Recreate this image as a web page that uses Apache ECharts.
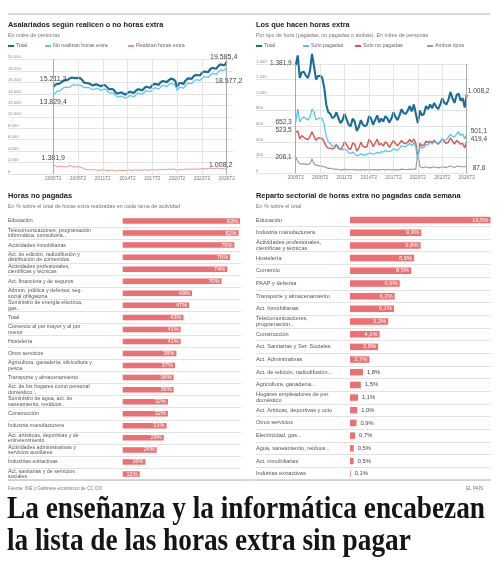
<!DOCTYPE html>
<html>
<head>
<meta charset="utf-8">
<script src="https://cdn.jsdelivr.net/npm/echarts@6/dist/echarts.min.js"></script>
<style>
html, body { margin: 0; padding: 0; background: #fff; }
#main { width: 504px; height: 570px; }
</style>
</head>
<body>
<div id="main"></div>
<script>
// trimestres: indice 0 = 2005T2 ... 84 = 2026T2
var xTickIdx = [0, 12, 24, 36, 48, 60, 72, 84];
var xTickLabels = ['2005T2', '2008T2', '2011T2', '2014T2', '2017T2', '2020T2', '2023T2', '2026T2'];

// Asalariados (miles)
var asalTotal = [15211.3, 15600, 15750,
    15800, 16050, 16300, 16400, 16450, 16700, 16850, 16800, 16750, 16800, 16750, 16450,
    15950, 15900, 15850, 15700, 15450, 15600, 15650, 15500, 15300, 15500, 15550, 15200,
    14800, 14850, 14800, 14350, 14050, 14150, 14250, 14050, 13850, 14150, 14400, 14250,
    14150, 14550, 14800, 14750, 14600, 14950, 15250, 15150, 15050, 15500, 15750, 15700,
    15550, 16000, 16250, 16150, 16050, 16400, 16650, 16550, 16300, 15200, 15850, 15900,
    15700, 16300, 16650, 16700, 16600, 17100, 17300, 17250, 17200, 17650, 17900, 17850,
    17800, 18300, 18550, 18450, 18400, 18900, 19150, 19050, 19000, 19585.4];
var asalNo = [13829.4, 14090, 14530,
    14505, 14750, 15050, 15180, 15140, 15170, 15480, 15600, 15505, 15550, 15525, 15350,
    15070, 15120, 15090, 14995, 14730, 14820, 14950, 14860, 14620, 14740, 14860, 14580,
    14200, 14150, 14140, 13810, 13460, 13470, 13630, 13450, 13230, 13420, 13700, 13630,
    13470, 13810, 14150, 14050, 13940, 14220, 14550, 14500, 14350, 14720, 15030, 15020,
    14810, 15180, 15480, 15390, 15250, 15540, 15860, 15670, 15540, 14560, 15050, 15160,
    14940, 15440, 15830, 15820, 15770, 16200, 16450, 16430, 16320, 16690, 17000, 16970,
    16860, 17260, 17590, 17550, 17400, 17880, 18220, 18090, 18160, 18577.2];

// Los que hacen horas extra (miles); el total es tambien "Realizan horas extra"
var hacenTotal = [1381.9, 1510, 1220,
    1295, 1300, 1250, 1220, 1310, 1530, 1370, 1200, 1245, 1250, 1225, 1100,
    880, 780, 760, 705, 720, 780, 700, 640, 680, 760, 690, 620,
    600, 700, 660, 540, 590, 680, 620, 600, 620, 730, 700, 620,
    680, 740, 650, 700, 660, 730, 700, 650, 700, 780, 720, 680,
    740, 820, 770, 760, 800, 860, 790, 880, 760, 640, 800, 740,
    760, 860, 820, 880, 830, 900, 850, 820, 880, 960, 900, 880,
    940, 1040, 960, 900, 1000, 1020, 930, 960, 840, 1008.2];
var soloPagadas = [652.3, 820, 660,
    700, 720, 700, 680, 720, 820, 780, 680, 700, 710, 700, 620,
    470, 400, 380, 340, 350, 370, 340, 300, 300, 310, 290, 260,
    250, 270, 250, 220, 230, 245, 235, 230, 240, 255, 255, 240,
    250, 265, 250, 275, 270, 290, 280, 275, 285, 315, 300, 290,
    320, 350, 340, 340, 360, 380, 350, 390, 330, 170, 340, 320,
    330, 370, 360, 400, 370, 400, 390, 380, 410, 440, 420, 430,
    460, 500, 470, 460, 500, 530, 480, 500, 440, 501.1];
var soloNoPagadas = [523.5, 540, 440,
    480, 460, 440, 430, 470, 530, 470, 420, 450, 450, 440, 400,
    340, 320, 320, 310, 320, 360, 315, 300, 340, 400, 360, 315,
    305, 385, 370, 280, 320, 395, 345, 330, 340, 435, 400, 340,
    385, 435, 360, 380, 345, 400, 375, 330, 375, 420, 380, 350,
    380, 420, 385, 375, 395, 430, 395, 440, 380, 200, 380, 350,
    360, 410, 390, 410, 390, 420, 390, 370, 400, 440, 405, 380,
    400, 450, 410, 370, 415, 400, 370, 380, 320, 419.4];
var ambosTipos = [206.1, 150, 120,
    115, 120, 110, 110, 120, 180, 120, 100, 95, 90, 85, 80,
    70, 60, 60, 55, 50, 50, 45, 40, 40, 50, 40, 45,
    45, 45, 40, 40, 40, 40, 40, 40, 40, 40, 45, 40,
    45, 40, 40, 45, 45, 40, 45, 45, 40, 45, 40, 40,
    40, 50, 45, 45, 45, 50, 45, 50, 50, 270, 80, 70,
    70, 80, 70, 70, 70, 80, 70, 70, 70, 80, 75, 70,
    80, 90, 80, 70, 85, 90, 80, 80, 80, 87.6];

// Horas no pagadas, % sobre el total de horas extra de cada rama
var ramasNoPag = [
    'Educación',
    'Telecomunicaciones, programación\ninformática, consultoría...',
    'Actividades inmobiliarias',
    'Act. de edición, radiodifusión y\ndistribución de contenidos',
    'Actividades profesionales,\ncientíficas y técnicas',
    'Act. financiera y de seguros',
    'Admon. pública y defensa; seg.\nsocial obligatoria',
    'Suministro de energía eléctrica,\ngas...',
    'Total',
    'Comercio al por mayor y al por\nmenor',
    'Hostelería',
    'Otros servicios',
    'Agricultura, ganadería, silvicultura y\npesca',
    'Transporte y almacenamiento',
    'Act. de los hogares como personal\ndoméstico...',
    'Suministro de agua, act. de\nsaneamiento, residuos...',
    'Construcción',
    'Industria manufacturera',
    'Act. artísticas, deportivas y de\nentretenimiento',
    'Actividades administrativas y\nservicios auxiliares',
    'Industrias extractivas',
    'Act. sanitarias y de servicios\nsociales'
];
var pctNoPag = [83, 82, 79, 76, 74, 70, 49, 47, 43, 41, 41, 38, 37, 36, 36, 32, 32, 31, 29, 24, 16, 12];

// Reparto sectorial de horas extra no pagadas, % sobre el total
var ramasReparto = [
    'Educación',
    'Industria manufacturera',
    'Actividades profesionales,\ncientíficas y técnicas',
    'Hostelería',
    'Comercio',
    'PAAP y defensa',
    'Transporte y almacenamiento',
    'Act. Inmobiliarias',
    'Telecomunicaciones,\nprogramación...',
    'Construcción',
    'Act. Sanitarias y Ser. Sociales',
    'Act. Adminitrativas',
    'Act. de edición, radiodifusión...',
    'Agricultura, ganadería...',
    'Hogares empleadores de per.\ndoméstico',
    'Act. Artiticas, deportivas y ocio',
    'Otros servicios',
    'Electricidad, gas...',
    'Agua, saneamiento, reiduos...',
    'Act. inmobiliarias',
    'Indutrias extractivas'
];
var pctReparto = [19.5, 9.9, 9.8, 8.9, 8.5, 6.9, 6.2, 6.1, 5.3, 4.1, 3.9, 2.7, 1.8, 1.5, 1.1, 1.0, 0.9, 0.7, 0.5, 0.5, 0.1];

var FONT = '"Liberation Sans", Arial, sans-serif';
var C_TOTAL = '#1a6d98';
var C_NO = '#5ec6ec';
var C_SI = '#e8928b';
var C_PAG = '#4cc2ee';
var C_NOPAG = '#d9534f';
var C_AMBOS = '#9c9c9c';
var C_BAR = '#ee6e72';

function fmtEs(v, dec) {
    var parts = v.toFixed(dec).split('.');
    var ent = parts[0].replace(/\B(?=(\d{3})+(?!\d))/g, '.');
    return parts.length > 1 ? ent + ',' + parts[1] : ent;
}

function lineData(arr, labFirst, labLast) {
    return arr.map(function (v, i) {
        var item = { value: [i, v] };
        if (i === 0 && labFirst) item.label = Object.assign({ show: true }, labFirst);
        if (i === arr.length - 1 && labLast) item.label = Object.assign({ show: true }, labLast);
        return item;
    });
}

function lineSeries(name, arr, grid, color, width, labFirst, labLast, fs) {
    return {
        name: name,
        type: 'line',
        xAxisIndex: grid,
        yAxisIndex: grid,
        data: lineData(arr, labFirst, labLast),
        showSymbol: true,
        symbol: 'circle',
        symbolSize: 0,
        clip: false,
        lineStyle: { color: color, width: width },
        itemStyle: { color: color },
        label: {
            show: false,
            fontSize: fs,
            fontFamily: FONT,
            color: '#444',
            formatter: function (p) { return fmtEs(p.value[1], 1); }
        },
        z: 3
    };
}

// lineas verticales en cada etiqueta de trimestre
function tickLines(grid) {
    return {
        name: 'ticks' + grid,
        type: 'line',
        xAxisIndex: grid,
        yAxisIndex: grid,
        data: [],
        silent: true,
        markLine: {
            silent: true,
            symbol: ['none', 'none'],
            label: { show: false },
            data: xTickIdx.map(function (v, i) {
                var edge = i === 0 || i === xTickIdx.length - 1;
                return {
                    xAxis: v,
                    lineStyle: { color: edge ? '#aaaaaa' : '#d4d4d4', width: edge ? 1 : 0.6, type: 'solid' }
                };
            })
        },
        z: 1
    };
}

function lineXAxis(grid, min, max) {
    return {
        gridIndex: grid,
        type: 'value',
        min: min,
        max: max,
        axisLine: { show: false },
        axisTick: { show: false, customValues: xTickIdx },
        axisLabel: {
            customValues: xTickIdx,
            fontSize: 4.8,
            fontFamily: FONT,
            color: '#777',
            margin: 2,
            formatter: function (v) { return xTickLabels[xTickIdx.indexOf(v)]; }
        },
        splitLine: { show: false }
    };
}

function lineYAxis(grid, max, interval) {
    return {
        gridIndex: grid,
        type: 'value',
        min: 0,
        max: max,
        interval: interval,
        axisLine: { show: false },
        axisTick: { show: false },
        axisLabel: {
            inside: true,
            verticalAlign: 'bottom',
            margin: 0,
            padding: [0, 0, 0.5, 0],
            fontSize: 4.2,
            fontFamily: FONT,
            color: '#888',
            formatter: function (v) { return fmtEs(v, 0); }
        },
        splitLine: { lineStyle: { color: '#d2d2d2', width: 0.6 } }
    };
}

function barXAxis(grid, min, max) {
    return { gridIndex: grid, type: 'value', min: min, max: max, show: false };
}

function barYAxis(grid, cats, fs, lh) {
    return {
        gridIndex: grid,
        type: 'category',
        data: cats,
        inverse: true,
        axisLine: { show: false },
        axisTick: { show: false },
        axisLabel: {
            inside: true,
            interval: 0,
            margin: 0,
            fontSize: fs,
            lineHeight: lh,
            fontFamily: FONT,
            color: '#555'
        },
        splitLine: {
            show: true,
            interval: function (i) { return i > 0; },
            lineStyle: { color: '#cfcfcf', width: 0.6 }
        }
    };
}

function titleItem(text, left, top, fs, bold, color) {
    return {
        text: text,
        left: left,
        top: top,
        padding: 0,
        textStyle: {
            fontSize: fs,
            lineHeight: fs + 1.5,
            fontWeight: bold ? 'bold' : 'normal',
            fontFamily: FONT,
            color: color
        }
    };
}

function legendItem(name, left) {
    return {
        data: [name],
        left: left,
        top: 43.5,
        padding: 0,
        icon: 'rect',
        itemWidth: 6,
        itemHeight: 2,
        textStyle: { fontSize: 5.3, fontFamily: FONT, color: '#666', padding: [0, 0, 0, -3] }
    };
}

// titular: texto serif condensado, se ajusta la escala horizontal al ancho de la pagina
var headFont = 'bold 32px "Liberation Serif", "DejaVu Serif", serif';
var headLine1 = 'La enseñanza y la informática encabezan';
var headLine2 = 'la lista de las horas extra sin pagar';
var ctx = document.createElement('canvas').getContext('2d');
ctx.font = headFont;
var headScale = 478 / ctx.measureText(headLine1).width;

var myChart = echarts.init(document.getElementById('main'), null, { renderer: 'canvas' });

var option = {
    animation: false,
    backgroundColor: '#fff',
    title: [
        titleItem('Asalariados según realicen o no horas extra', 8, 20.5, 7.4, true, '#222'),
        titleItem('En miles de personas', 8, 32.5, 5.4, false, '#777'),
        titleItem('Los que hacen horas extra', 256, 20.5, 7.4, true, '#222'),
        titleItem('Por tipo de hora (pagadas, no pagadas o ambas). En miles de personas', 256, 32.5, 5.4, false, '#777'),
        titleItem('Horas no pagadas', 8, 191.5, 7.4, true, '#222'),
        titleItem('En % sobre el total de horas extra realizadas en cada rama de actividad', 8, 203.5, 5.4, false, '#777'),
        titleItem('Reparto sectorial de horas extra no pagadas cada semana', 256, 191.5, 7.4, true, '#222'),
        titleItem('En % sobre el total', 256, 203.5, 5.4, false, '#777'),
        titleItem('Fuente: INE y Gabinete económico de CC OO', 8, 485.5, 4.6, false, '#777'),
        titleItem('EL PAÍS', 466, 485.5, 4.6, false, '#777')
    ],
    legend: [
        legendItem('Total', 8),
        legendItem('No realizan horas extra', 45),
        legendItem('Realizan horas extra', 128),
        legendItem('Total', 256),
        legendItem('Solo pagadas', 303),
        legendItem('Solo no pagadas', 355),
        legendItem('Ambos tipos', 427)
    ],
    grid: [
        { left: 8, top: 59.5, width: 225, height: 114.5 },
        { left: 256, top: 64, width: 214, height: 109 },
        { left: 8, top: 215, width: 233, height: 265 },
        { left: 256, top: 213.7, width: 235, height: 266.3 }
    ],
    xAxis: [
        lineXAxis(0, -21.9, 87.05),
        lineXAxis(1, -19.5, 85.6),
        barXAxis(2, -81.2, 83.7),
        barXAxis(3, -13.06, 19.58)
    ],
    yAxis: [
        lineYAxis(0, 20000, 2000),
        lineYAxis(1, 1400, 200),
        barYAxis(2, ramasNoPag, 5.3, 5.6),
        barYAxis(3, ramasReparto, 5.6, 6.4)
    ],
    series: [
        tickLines(0),
        tickLines(1),
        lineSeries('No realizan horas extra', asalNo, 0, C_NO, 1.3,
            { position: 'bottom', distance: 4 },
            { position: 'bottom', distance: 10, offset: [2, 0] }, 7),
        lineSeries('Total', asalTotal, 0, C_TOTAL, 2.2,
            { position: 'top', distance: 4 },
            { position: 'top', distance: 1.5, offset: [-3, 0] }, 7),
        lineSeries('Realizan horas extra', hacenTotal, 0, C_SI, 1,
            { position: 'top', distance: 5 },
            { position: 'top', distance: 0, offset: [-6, 0] }, 7),

        lineSeries('Ambos tipos', ambosTipos, 1, C_AMBOS, 1.2,
            { position: 'left', distance: 4 },
            { position: 'right', distance: 6, offset: [0, 2] }, 6.5),
        lineSeries('Solo no pagadas', soloNoPagadas, 1, C_NOPAG, 1.4,
            { position: 'left', distance: 4, offset: [0, -2] },
            { position: 'right', distance: 4, offset: [0, -1] }, 6.5),
        lineSeries('Solo pagadas', soloPagadas, 1, C_PAG, 1.2,
            { position: 'left', distance: 4 },
            { position: 'right', distance: 4, offset: [0, -3] }, 6.5),
        lineSeries('Total', hacenTotal, 1, C_TOTAL, 2.1,
            { position: 'left', distance: 4, offset: [0, -2] },
            { position: 'right', distance: 1, offset: [0, -3] }, 6.5),

        {
            name: 'Horas no pagadas',
            type: 'bar',
            xAxisIndex: 2,
            yAxisIndex: 2,
            data: pctNoPag,
            barWidth: 5.5,
            itemStyle: { color: C_BAR },
            label: {
                show: true,
                position: 'insideRight',
                distance: 2,
                fontSize: 5.6,
                fontFamily: FONT,
                color: '#fff',
                formatter: '{c}%'
            }
        },
        {
            name: 'Reparto sectorial',
            type: 'bar',
            xAxisIndex: 3,
            yAxisIndex: 3,
            data: pctReparto.map(function (v) {
                var inside = v >= 2.5;
                return {
                    value: v,
                    label: {
                        position: inside ? 'insideRight' : 'right',
                        distance: inside ? 2 : 4,
                        color: inside ? '#fff' : '#444'
                    }
                };
            }),
            barWidth: 6.5,
            itemStyle: { color: C_BAR },
            label: {
                show: true,
                fontSize: 5.8,
                fontFamily: FONT,
                formatter: function (p) { return p.value.toFixed(1).replace('.', ',') + '%'; }
            }
        }
    ],
    graphic: [
        { type: 'line', shape: { x1: 8, y1: 14, x2: 490, y2: 14 }, style: { stroke: '#9a9a9a', lineWidth: 0.8 }, silent: true },
        { type: 'line', shape: { x1: 8, y1: 480, x2: 491, y2: 480 }, style: { stroke: '#9a9a9a', lineWidth: 0.8 }, silent: true },
        {
            type: 'text', x: 7, y: 510, scaleX: headScale, silent: true,
            style: { text: headLine1, font: headFont, fill: '#151515', verticalAlign: 'middle' }
        },
        {
            type: 'text', x: 7, y: 542, scaleX: headScale, silent: true,
            style: { text: headLine2, font: headFont, fill: '#151515', verticalAlign: 'middle' }
        }
    ]
};

myChart.setOption(option);
</script>
</body>
</html>
